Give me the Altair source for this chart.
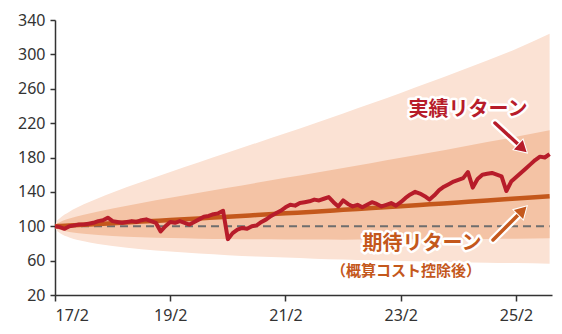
import altair as alt
import pandas as pd

# ---- data ----
tick_months = [0, 24, 48, 72, 96]
tick_labels = ["17/2", "19/2", "21/2", "23/2", "25/2"]
y_ticks = [20, 60, 100, 140, 180, 220, 260, 300, 340]

fan_months = [0, 0.25, 1, 3, 6, 12, 18, 24, 30, 36, 42, 48, 54, 60, 66, 72, 78, 84, 90, 96, 103]
expected = [100, 100.1, 100.3, 100.9, 101.8, 103.6, 105.4, 107.2, 109.1, 111.0, 113.0, 115.0,
            117.0, 119.1, 121.2, 123.3, 125.5, 127.7, 129.9, 132.2, 134.9]
inner_hi = [100, 102.2, 104.8, 108.9, 113.4, 120.7, 127.2, 133.2, 139.1, 144.9, 150.6, 156.3,
            162.1, 167.9, 173.7, 179.6, 185.6, 191.7, 197.9, 204.1, 211.6]
inner_lo = [100, 97.8, 95.9, 93.4, 91.3, 88.8, 87.3, 86.3, 85.6, 85.1, 84.8, 84.6,
            84.5, 84.4, 84.5, 84.6, 84.8, 85.0, 85.3, 85.6, 86.0]
outer_hi = [100, 104.4, 109.3, 117.0, 125.5, 139.4, 151.6, 163.2, 174.5, 185.7, 197.0, 208.3,
            219.7, 231.3, 243.1, 255.2, 267.5, 280.1, 293.0, 306.2, 324.0]
outer_lo = [100, 95.8, 92.1, 87.0, 82.5, 76.9, 73.2, 70.5, 68.2, 66.4, 64.8, 63.5,
            62.3, 61.3, 60.4, 59.6, 58.8, 58.2, 57.6, 57.1, 56.5]

actual = [100, 99, 97, 100, 101, 102, 102, 103, 104, 106, 107, 110,
          106, 105, 104, 105, 106, 105, 107, 108, 106, 104, 94, 100,
          105, 104, 106, 104, 102, 105, 108, 111, 112, 114, 115, 118,
          85, 92, 96, 98, 97, 100, 101, 105, 108, 112, 115, 118,
          122, 125, 124, 127, 128, 129, 131, 130, 132, 134, 128, 123,
          130, 126, 123, 125, 122, 125, 128, 126, 123, 125, 127, 124,
          128, 133, 137, 140, 138, 135, 131, 136, 142, 146, 149, 152,
          154, 156, 163, 145, 155, 160, 161, 162, 160, 158, 141, 152,
          157, 162, 167, 172, 177, 181, 180, 184]
actual_months = list(range(len(actual)))

baseline = [100, 100]
baseline_months = [0, 103]

fan_df = pd.DataFrame({"m": fan_months, "exp": expected, "ih": inner_hi, "il": inner_lo,
                       "oh": outer_hi, "ol": outer_lo})
act_df = pd.DataFrame({"m": actual_months, "v": actual})
base_df = pd.DataFrame({"m": baseline_months, "v": baseline})

RED = "#b71c2a"
ORANGE = "#c4581c"
FONT = "Noto Sans CJK JP"
TICKFONT = "Noto Sans"

label_expr = "[" + ",".join("'%s'" % s for s in tick_labels) + "][datum.value/24]"

xs = alt.Scale(domain=[0, 103.5], nice=False, zero=False)
ys = alt.Scale(domain=[20, 340], nice=False, zero=False)

x_axis = alt.Axis(values=tick_months, labelExpr=label_expr, grid=False, title=None,
                  domainColor="#333", tickColor="#333", domainWidth=1.5, tickWidth=1.5,
                  tickSize=6, labelPadding=6, labelFont=TICKFONT, labelFontSize=16,
                  labelColor="#333", labelOverlap=False)
y_axis = alt.Axis(values=y_ticks, grid=False, title=None,
                  domainColor="#333", tickColor="#333", domainWidth=1.5, tickWidth=1.5,
                  tickSize=5, labelPadding=5, labelFont=TICKFONT, labelFontSize=16,
                  labelColor="#333", labelOverlap=False, labelBound=False, labelFlush=False)

base = alt.Chart(fan_df)


def X(f):
    return alt.X(f, scale=xs, axis=x_axis)


def Y(f):
    return alt.Y(f, scale=ys, axis=y_axis)


outer = base.mark_area(color="#fbe2d4", interpolate="monotone").encode(
    x=X("m:Q"), y=Y("oh:Q"), y2="ol:Q"
)
inner = base.mark_area(color="#f4c3a5", interpolate="monotone").encode(
    x=X("m:Q"), y=Y("ih:Q"), y2="il:Q"
)
dash = alt.Chart(base_df).mark_line(color="#6e6e6e", strokeWidth=2, strokeDash=[8, 5]).encode(
    x=X("m:Q"), y=Y("v:Q")
)
exp_line = base.mark_line(color=ORANGE, strokeWidth=4.5, interpolate="monotone").encode(
    x=X("m:Q"), y=Y("exp:Q")
)
act_line = alt.Chart(act_df).mark_line(color=RED, strokeWidth=4, strokeJoin="round").encode(
    x=X("m:Q"), y=Y("v:Q")
)

one = pd.DataFrame({"k": [0]})


def label(text, px, py, color, size):
    halo = alt.Chart(one).mark_text(text=text, font=FONT, fontSize=size, fontWeight="bold",
                                    color="white", stroke="white", strokeWidth=5,
                                    strokeJoin="round").encode(x=alt.value(px), y=alt.value(py))
    fg = alt.Chart(one).mark_text(text=text, font=FONT, fontSize=size, fontWeight="bold",
                                  color=color).encode(x=alt.value(px), y=alt.value(py))
    return [halo, fg]


def arrow(x1, y1, x2, y2, cx, cy, ang, color):
    w = alt.Chart(one).mark_rule(color="white", strokeWidth=8, strokeCap="round").encode(
        x=alt.value(x1), y=alt.value(y1), x2=alt.value(x2), y2=alt.value(y2))
    c = alt.Chart(one).mark_rule(color=color, strokeWidth=3.5, strokeCap="round").encode(
        x=alt.value(x1), y=alt.value(y1), x2=alt.value(x2), y2=alt.value(y2))
    h = alt.Chart(one).mark_point(shape="triangle-up", filled=True, size=170, angle=ang,
                                  color=color, stroke="white", strokeWidth=2,
                                  opacity=1).encode(x=alt.value(cx), y=alt.value(cy))
    h2 = alt.Chart(one).mark_point(shape="triangle-up", filled=True, size=170, angle=ang,
                                   color=color, opacity=1).encode(x=alt.value(cx), y=alt.value(cy))
    return [w, c, h, h2]


layers = [outer, inner, dash, exp_line, act_line]
layers += arrow(440, 103, 465, 126, 467.5, 128.5, 133, RED)
layers += arrow(438, 220, 465, 193, 467.5, 190.5, 45, ORANGE)
layers += label("実績リターン", 413, 90, RED, 20)
layers += label("期待リターン", 367, 224, ORANGE, 20)
layers += label("（概算コスト控除後）", 351, 251, ORANGE, 15)

chart = alt.layer(*layers).properties(
    width=497, height=275,
    autosize=alt.AutoSizeParams(type="none"),
    padding={"left": 55, "top": 20, "right": 10, "bottom": 39},
).configure_view(stroke=None)

chart.save("out.html", embed_options={"renderer": "svg", "actions": False})
